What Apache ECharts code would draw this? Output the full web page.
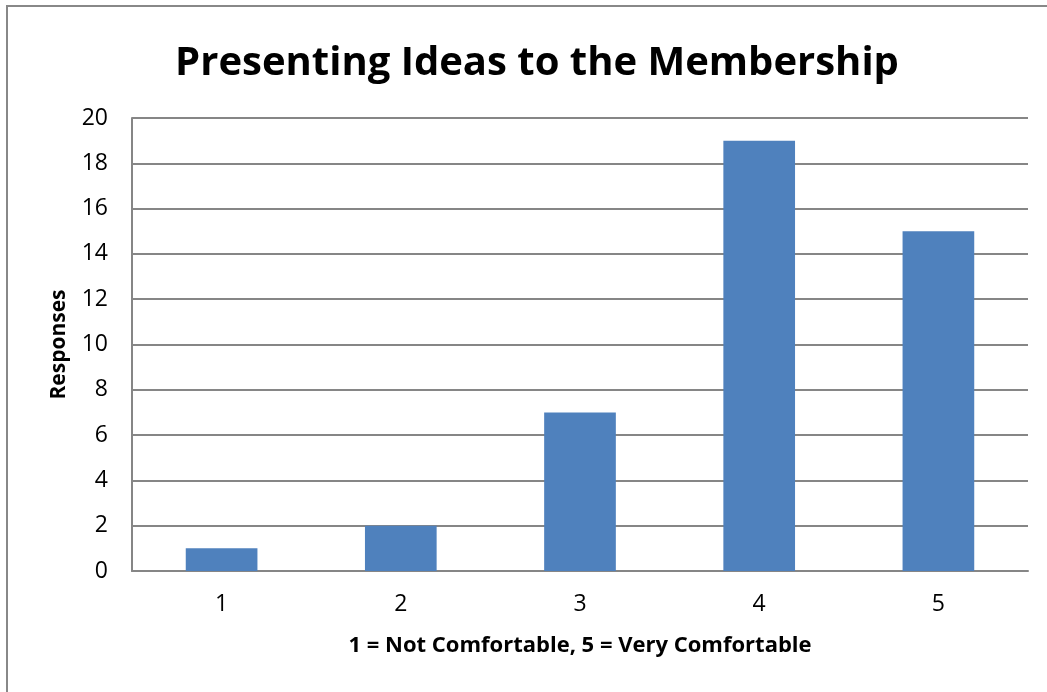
<!DOCTYPE html>
<html lang="en">
<head>
    <meta charset="UTF-8">
    <title>Presenting Ideas to the Membership</title>
    <style>
        html, body { margin: 0; padding: 0; background: #fff; }
        #container { width: 1047px; height: 692px; }
    </style>
    <script src="https://cdn.jsdelivr.net/npm/echarts@6/dist/echarts.min.js"></script>
</head>
<body>
<div id="container"></div>
<script type="text/javascript">
    // chart data
    var categories = ['1', '2', '3', '4', '5'];
    var responses = [1, 2, 7, 19, 15];

    var font = '"Open Sans", "Liberation Sans", sans-serif';
    var myChart = echarts.init(document.getElementById('container'));

    var option = {
        backgroundColor: '#fff',
        animation: false,
        title: {
            text: 'Presenting Ideas to the Membership',
            left: 532,
            textAlign: 'center',
            top: 39,
            textStyle: { fontFamily: font, fontSize: 40, fontWeight: 'bold', color: '#000' }
        },
        graphic: [{
            type: 'rect',
            shape: { x: 7, y: 6, width: 1100, height: 800 },
            style: { fill: 'none', stroke: '#888', lineWidth: 2 },
            silent: true
        }],
        grid: { left: 132, top: 118, right: 19, bottom: 121 },
        xAxis: {
            type: 'category',
            data: categories,
            name: '1 = Not Comfortable, 5 = Very Comfortable',
            nameLocation: 'middle',
            nameGap: 64,
            nameTextStyle: { fontFamily: font, fontSize: 22, fontWeight: 'bold', color: '#000' },
            axisLine: { lineStyle: { color: '#868686', width: 2 } },
            axisTick: { show: false },
            axisLabel: { fontFamily: font, fontSize: 23, color: '#000', margin: 22 }
        },
        yAxis: {
            type: 'value',
            min: 0,
            max: 20,
            interval: 2,
            name: 'Responses',
            nameLocation: 'middle',
            nameGap: 62,
            nameTextStyle: { fontFamily: font, fontSize: 21, fontWeight: 'bold', color: '#000' },
            axisLine: { show: true, lineStyle: { color: '#868686', width: 2 } },
            axisTick: { show: false },
            axisLabel: { fontFamily: font, fontSize: 23, color: '#000', margin: 24 },
            splitLine: { lineStyle: { color: '#868686', width: 2 } }
        },
        series: [{
            type: 'bar',
            data: responses,
            barWidth: '40%',
            itemStyle: { color: '#4F81BD' }
        }]
    };

    myChart.setOption(option);
</script>
</body>
</html>
